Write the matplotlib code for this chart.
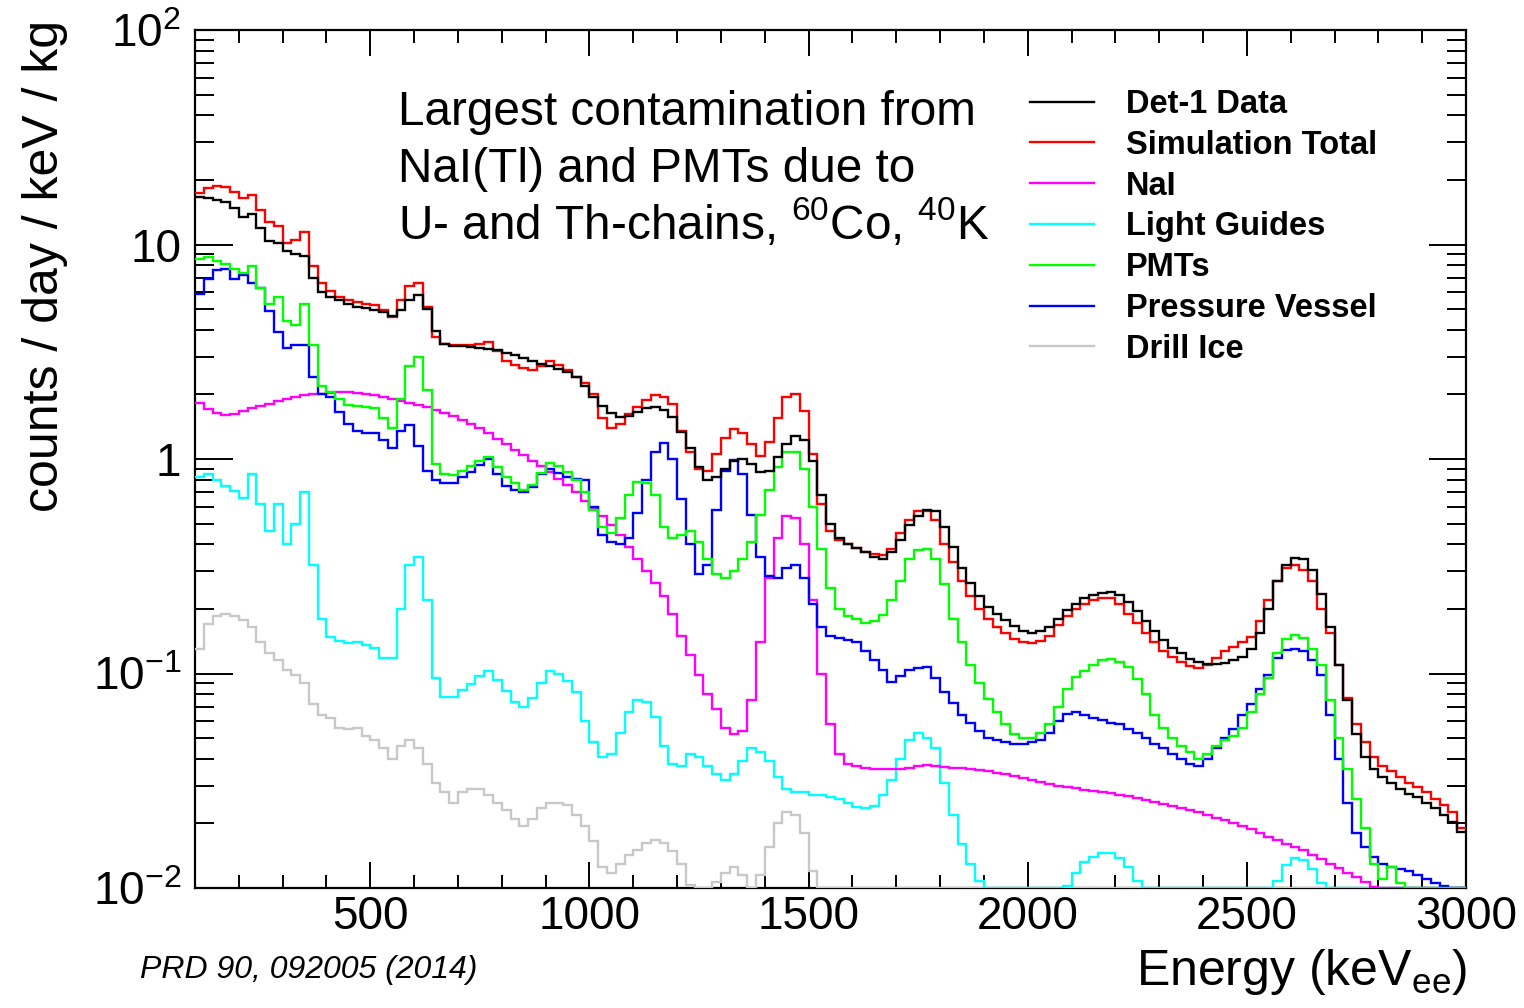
import numpy as np
import matplotlib
matplotlib.use("Agg")
import matplotlib.pyplot as plt
from matplotlib.lines import Line2D
from matplotlib.ticker import MultipleLocator, LogLocator, NullFormatter

plt.rcParams['font.family'] = ['Liberation Sans', 'DejaVu Sans']
plt.rcParams['mathtext.fontset'] = 'custom'
plt.rcParams['mathtext.rm'] = 'Liberation Sans'
plt.rcParams['mathtext.it'] = 'Liberation Sans:italic'
plt.rcParams['mathtext.bf'] = 'Liberation Sans:bold'

# 20 keV bins, 100 - 3000 keV
bin_edges = np.arange(100, 3001, 20)

det1_data = [
    16.6, 16.5, 16.2, 15.7, 14.8, 13.5, 13.8, 12.0, 10.4, 10.2,
    9.3, 9.0, 8.8, 7.0, 6.0, 5.7, 5.5, 5.3, 5.1, 5.05,
    4.95, 4.85, 4.65, 4.95, 5.5, 5.8, 5.0, 3.95, 3.45, 3.35,
    3.35, 3.33, 3.3, 3.27, 3.22, 3.12, 3.04, 2.96, 2.85, 2.76,
    2.70, 2.63, 2.55, 2.40, 2.18, 1.95, 1.76, 1.63, 1.57, 1.58,
    1.65, 1.73, 1.75, 1.70, 1.57, 1.33, 1.12, 0.92, 0.80, 0.82,
    0.90, 0.98, 1.0, 0.95, 0.87, 0.88, 1.02, 1.18, 1.28, 1.22,
    0.98, 0.68, 0.50, 0.43, 0.40, 0.385, 0.37, 0.35, 0.34, 0.37,
    0.42, 0.49, 0.54, 0.58, 0.57, 0.48, 0.39, 0.31, 0.265, 0.23,
    0.205, 0.19, 0.178, 0.166, 0.157, 0.154, 0.158, 0.165, 0.18, 0.197,
    0.212, 0.225, 0.233, 0.238, 0.24, 0.232, 0.215, 0.195, 0.175, 0.157,
    0.143, 0.132, 0.124, 0.117, 0.113, 0.111, 0.111, 0.112, 0.115, 0.12,
    0.13, 0.155, 0.2, 0.27, 0.32, 0.345, 0.34, 0.305, 0.235, 0.165,
    0.11, 0.075, 0.052, 0.041, 0.036, 0.033, 0.031, 0.029, 0.0275, 0.0265,
    0.025, 0.0235, 0.0218, 0.0203, 0.0182,
]

sim_total = [
    17.3, 18.3, 18.8, 18.6, 17.5, 16.5, 17.0, 14.5, 12.8, 12.2,
    10.2, 10.5, 11.4, 7.9, 6.6, 6.1, 5.7, 5.5, 5.4, 5.3,
    5.2, 4.95, 4.6, 5.5, 6.4, 6.6, 5.1, 3.7, 3.45, 3.4,
    3.4, 3.4, 3.45, 3.5, 3.2, 2.85, 2.75, 2.65, 2.6, 2.7,
    2.85, 2.75, 2.6, 2.4, 2.25, 2.0, 1.55, 1.40, 1.45, 1.62,
    1.75, 1.88, 1.98, 1.95, 1.80, 1.35, 1.08, 0.9, 0.88, 1.05,
    1.25, 1.38, 1.32, 1.18, 1.03, 1.2, 1.55, 1.95, 2.0, 1.68,
    1.05, 0.62, 0.46, 0.42, 0.40, 0.385, 0.37, 0.36, 0.355, 0.38,
    0.45, 0.52, 0.57, 0.57, 0.52, 0.40, 0.33, 0.27, 0.23, 0.2,
    0.18, 0.165, 0.155, 0.145, 0.14, 0.139, 0.142, 0.15, 0.168, 0.185,
    0.2, 0.21, 0.22, 0.225, 0.225, 0.21, 0.19, 0.172, 0.155, 0.14,
    0.128, 0.12, 0.113, 0.108, 0.106, 0.11, 0.118, 0.127, 0.133, 0.14,
    0.148, 0.175, 0.22, 0.27, 0.31, 0.32, 0.305, 0.27, 0.2, 0.155,
    0.11, 0.077, 0.058, 0.048, 0.041, 0.037, 0.035, 0.033, 0.031, 0.0296,
    0.028, 0.026, 0.0245, 0.0225, 0.019,
]

nai = [
    1.82, 1.71, 1.64, 1.60, 1.62, 1.67, 1.72, 1.76, 1.80, 1.86,
    1.91, 1.95, 1.98, 2.0, 2.02, 2.04, 2.05, 2.05, 2.04, 2.01,
    1.98, 1.95, 1.91, 1.87, 1.83, 1.79, 1.74, 1.70, 1.64, 1.58,
    1.52, 1.45, 1.39, 1.32, 1.24, 1.17, 1.10, 1.04, 0.98, 0.93,
    0.87, 0.81, 0.76, 0.70, 0.64, 0.59, 0.54, 0.49, 0.44, 0.39,
    0.34, 0.30, 0.265, 0.23, 0.19, 0.15, 0.122, 0.098, 0.08, 0.068,
    0.056, 0.052, 0.054, 0.075, 0.14, 0.28, 0.43, 0.54, 0.53, 0.4,
    0.22, 0.1, 0.058, 0.042, 0.038, 0.037, 0.0362, 0.036, 0.0358, 0.0357,
    0.0358, 0.0362, 0.037, 0.0374, 0.037, 0.0367, 0.0364, 0.0362, 0.036, 0.0355,
    0.035, 0.0345, 0.034, 0.0333, 0.0325, 0.0318, 0.0312, 0.0306, 0.03, 0.0296,
    0.0292, 0.0287, 0.0283, 0.028, 0.0276, 0.0272, 0.0268, 0.0264, 0.0258, 0.0252,
    0.0246, 0.024, 0.0235, 0.023, 0.0225, 0.0219, 0.0213, 0.0207, 0.0201, 0.0195,
    0.0188, 0.018, 0.0173, 0.0167, 0.016, 0.0155, 0.015, 0.0143, 0.0137, 0.013,
    0.0124, 0.0118, 0.0112, 0.0107, 0.0101, 0, 0, 0, 0, 0,
    0, 0, 0, 0, 0,
]

light_guides = [
    0.82, 0.85, 0.80, 0.75, 0.71, 0.66, 0.85, 0.62, 0.46, 0.62,
    0.40, 0.50, 0.70, 0.32, 0.18, 0.148, 0.141, 0.139, 0.14, 0.136,
    0.132, 0.118, 0.118, 0.2, 0.32, 0.35, 0.22, 0.095, 0.078, 0.078,
    0.084, 0.089, 0.097, 0.103, 0.093, 0.083, 0.074, 0.070, 0.077, 0.09,
    0.103, 0.1, 0.092, 0.082, 0.06, 0.048, 0.041, 0.042, 0.053, 0.066,
    0.075, 0.074, 0.063, 0.046, 0.038, 0.037, 0.042, 0.041, 0.037, 0.034,
    0.032, 0.034, 0.039, 0.045, 0.043, 0.039, 0.033, 0.029, 0.028, 0.028,
    0.027, 0.027, 0.0265, 0.026, 0.025, 0.0238, 0.0235, 0.024, 0.027, 0.032,
    0.04, 0.049, 0.053, 0.05, 0.045, 0.031, 0.022, 0.016, 0.013, 0.0108,
    0, 0, 0, 0, 0, 0, 0, 0, 0, 0.0102,
    0.0118, 0.0132, 0.014, 0.0145, 0.0146, 0.0138, 0.0125, 0.0108, 0, 0,
    0, 0, 0, 0, 0, 0, 0, 0, 0, 0,
    0, 0, 0, 0.0108, 0.0128, 0.0138, 0.0135, 0.0122, 0.0106, 0,
    0, 0, 0, 0, 0, 0, 0, 0, 0, 0,
    0, 0, 0, 0, 0,
]

pmts = [
    8.6, 8.7, 8.4, 8.1, 7.7, 7.4, 7.9, 6.3, 5.3, 5.7,
    4.4, 4.2, 5.3, 3.4, 2.2, 2.05, 1.9, 1.78, 1.76, 1.75,
    1.72, 1.55, 1.40, 1.9, 2.7, 3.0, 2.1, 0.95, 0.85, 0.84,
    0.88, 0.93, 0.98, 1.02, 0.92, 0.82, 0.77, 0.72, 0.76, 0.86,
    0.96, 0.93, 0.87, 0.80, 0.70, 0.58, 0.48, 0.45, 0.53, 0.68,
    0.78, 0.77, 0.68, 0.48, 0.43, 0.44, 0.46, 0.41, 0.34, 0.29,
    0.28, 0.30, 0.34, 0.41, 0.55, 0.72, 0.92, 1.08, 1.08, 0.9,
    0.6, 0.38, 0.25, 0.2, 0.185, 0.18, 0.172, 0.175, 0.187, 0.22,
    0.27, 0.34, 0.375, 0.38, 0.34, 0.26, 0.18, 0.14, 0.11, 0.09,
    0.076, 0.066, 0.058, 0.052, 0.05, 0.05, 0.053, 0.058, 0.07, 0.085,
    0.096, 0.103, 0.11, 0.116, 0.117, 0.113, 0.107, 0.094, 0.08, 0.064,
    0.056, 0.05, 0.046, 0.043, 0.04, 0.042, 0.046, 0.049, 0.051, 0.056,
    0.066, 0.08, 0.095, 0.125, 0.145, 0.151, 0.146, 0.13, 0.11, 0.075,
    0.05, 0.036, 0.026, 0.019, 0.013, 0.011, 0.0125, 0.0105, 0, 0,
    0, 0, 0, 0, 0,
]

pressure_vessel = [
    5.9, 6.9, 7.6, 7.7, 6.9, 7.2, 6.6, 6.3, 4.9, 3.9,
    3.3, 3.4, 3.4, 2.4, 2.0, 1.95, 1.65, 1.45, 1.35, 1.32,
    1.32, 1.22, 1.12, 1.35, 1.44, 1.15, 0.88, 0.80, 0.77, 0.77,
    0.82, 0.87, 0.94, 1.0, 0.85, 0.75, 0.72, 0.70, 0.74, 0.85,
    0.9, 0.86, 0.82, 0.81, 0.80, 0.6, 0.44, 0.41, 0.40, 0.43,
    0.56, 0.80, 1.08, 1.19, 1.0, 0.65, 0.40, 0.29, 0.32, 0.58,
    0.88, 0.99, 0.85, 0.55, 0.35, 0.285, 0.28, 0.31, 0.32, 0.28,
    0.21, 0.165, 0.15, 0.147, 0.144, 0.14, 0.128, 0.115, 0.104, 0.091,
    0.097, 0.104, 0.106, 0.107, 0.095, 0.082, 0.073, 0.064, 0.059, 0.054,
    0.05, 0.049, 0.048, 0.047, 0.047, 0.048, 0.049, 0.053, 0.06, 0.065,
    0.066, 0.064, 0.062, 0.061, 0.059, 0.058, 0.055, 0.053, 0.05, 0.047,
    0.045, 0.042, 0.04, 0.038, 0.037, 0.04, 0.045, 0.05, 0.055, 0.064,
    0.072, 0.085, 0.098, 0.118, 0.129, 0.13, 0.127, 0.115, 0.098, 0.064,
    0.04, 0.025, 0.018, 0.0155, 0.014, 0.013, 0.0125, 0.0123, 0.012, 0.0115,
    0.011, 0.0105, 0.0102, 0, 0,
]

drill_ice = [
    0.13, 0.17, 0.185, 0.19, 0.185, 0.178, 0.165, 0.14, 0.125, 0.115,
    0.104, 0.098, 0.09, 0.072, 0.064, 0.062, 0.056, 0.055, 0.056, 0.051,
    0.049, 0.045, 0.04, 0.046, 0.049, 0.045, 0.038, 0.031, 0.028, 0.025,
    0.028, 0.029, 0.029, 0.027, 0.025, 0.023, 0.021, 0.0195, 0.021, 0.0235,
    0.025, 0.025, 0.0245, 0.022, 0.0195, 0.0165, 0.0125, 0.0117, 0.013, 0.0142,
    0.015, 0.0162, 0.0167, 0.0162, 0.0148, 0.013, 0.0103, 0, 0, 0.0107,
    0.0118, 0.0125, 0.0115, 0, 0.0115, 0.0155, 0.02, 0.0226, 0.022, 0.018,
    0.012, 0, 0, 0, 0, 0, 0, 0, 0, 0,
    0, 0, 0, 0, 0, 0, 0, 0, 0, 0,
    0, 0, 0, 0, 0, 0, 0, 0, 0, 0,
    0, 0, 0, 0, 0, 0, 0, 0, 0, 0,
    0, 0, 0, 0, 0, 0, 0, 0, 0, 0,
    0, 0, 0, 0, 0, 0, 0, 0, 0, 0,
    0, 0, 0, 0, 0, 0, 0, 0, 0, 0,
    0, 0, 0, 0, 0,
]

labels = ["Det-1 Data", "Simulation Total", "NaI", "Light Guides",
          "PMTs", "Pressure Vessel", "Drill Ice"]
colors = ["#000000", "#ff0000", "#ff00ff", "#00ffff",
          "#00ff00", "#0000ff", "#c8c8c8"]
hists = [det1_data, sim_total, nai, light_guides, pmts, pressure_vessel, drill_ice]

fig = plt.figure(figsize=(15.24, 10.08), dpi=100)
ax = fig.add_axes([195/1524, 120/1008, 1271/1524, 858/1008])

# draw back to front (drill ice first, data last), like the ROOT canvas
for idx in [6, 3, 2, 5, 4, 1, 0]:
    vals = np.asarray(hists[idx], dtype=float)
    assert len(vals) == len(bin_edges) - 1, labels[idx]
    # empty bins sit on the lower frame edge, as ROOT draws them
    ax.stairs(np.clip(vals, 0.01, None), bin_edges, baseline=None,
              color=colors[idx], lw=1.7, zorder=3)

ax.set_yscale('log')
ax.set_xlim(100, 3000)
ax.set_ylim(0.01, 100)

ax.xaxis.set_major_locator(MultipleLocator(500))
ax.xaxis.set_minor_locator(MultipleLocator(100))
ax.set_xticks([500, 1000, 1500, 2000, 2500, 3000])
ax.set_xticklabels(['500', '1000', '1500', '2000', '2500', '3000'])
ax.set_yticks([0.01, 0.1, 1, 10, 100])
ax.set_yticklabels([r'$\mathregular{10^{-2}}$', r'$\mathregular{10^{-1}}$',
                    '1', '10', r'$\mathregular{10^{2}}$'])
ax.yaxis.set_minor_locator(LogLocator(base=10, subs=np.arange(2, 10)))
ax.yaxis.set_minor_formatter(NullFormatter())

ax.tick_params(axis='both', which='both', direction='in', top=True, right=True,
               width=1.4, color='black')
ax.tick_params(axis='x', which='major', length=19, labelsize=33, pad=5)
ax.tick_params(axis='x', which='minor', length=9.5)
ax.tick_params(axis='y', which='major', length=27, labelsize=33, pad=10)
ax.tick_params(axis='y', which='minor', length=13.5)
for sp in ax.spines.values():
    sp.set_linewidth(1.6)

fig.text(1467/1524, 1 - 985/1008, r'Energy (keV$_{\mathregular{ee}}$)',
         fontsize=36, ha='right', va='baseline')
fig.text(45/1524, 1 - 20/1008, 'counts / day / keV / kg', fontsize=36,
         rotation=90, ha='center', va='top')

fig.text(398/1524, 1 - 125/1008, 'Largest contamination from', fontsize=34.4,
         ha='left', va='baseline')
fig.text(398/1524, 1 - 182/1008, 'NaI(Tl) and PMTs due to', fontsize=34.4,
         ha='left', va='baseline')
fig.text(398/1524, 1 - 239/1008,
         r'U- and Th-chains, $\mathregular{^{60}}$Co, $\mathregular{^{40}}$K',
         fontsize=34.4, ha='left', va='baseline')

fig.text(140/1524, 1 - 978/1008, 'PRD 90, 092005 (2014)', fontsize=23,
         style='italic', ha='left', va='baseline')

handles = [Line2D([], [], color=c, lw=1.7) for c in colors]
fig.legend(handles, labels, loc='upper left',
           bbox_to_anchor=(1030/1524, 1 - 89/1008), frameon=False,
           prop={'weight': 'bold', 'size': 23.5}, handlelength=1.96,
           handletextpad=0.98, labelspacing=0.3, borderpad=0, borderaxespad=0)

fig.savefig('out.png', dpi=100)
